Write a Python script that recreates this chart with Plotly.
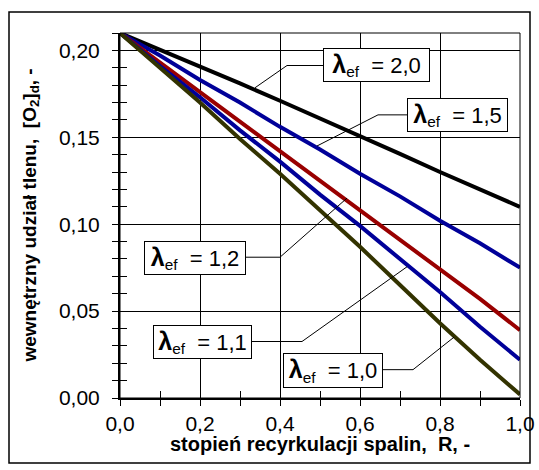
import plotly.graph_objects as go

# ---- data ----
R = [0.0, 0.1, 0.2, 0.3, 0.4, 0.5, 0.6, 0.7, 0.8, 0.9, 1.0]
o2_lam20 = [0.210, 0.2005, 0.191, 0.181, 0.171, 0.161, 0.151, 0.1405, 0.130, 0.120, 0.110]
o2_lam15 = [0.210, 0.197, 0.183, 0.170, 0.156, 0.143, 0.129, 0.116, 0.102, 0.089, 0.075]
o2_lam12 = [0.210, 0.193, 0.176, 0.159, 0.142, 0.125, 0.108, 0.091, 0.074, 0.057, 0.039]
o2_lam11 = [0.210, 0.191, 0.173, 0.154, 0.136, 0.117, 0.099, 0.080, 0.061, 0.041, 0.022]
o2_lam10 = [0.210, 0.190, 0.170, 0.149, 0.129, 0.108, 0.087, 0.065, 0.043, 0.022, 0.002]

series_labels = ["2,0", "1,5", "1,2", "1,1", "1,0"]
x_tickvals = [0.0, 0.2, 0.4, 0.6, 0.8, 1.0]
x_ticktext = ["0,0", "0,2", "0,4", "0,6", "0,8", "1,0"]
y_tickvals = [0.00, 0.05, 0.10, 0.15, 0.20]
y_ticktext = ["0,00", "0,05", "0,10", "0,15", "0,20"]

x_title = "stopień recyrkulacji spalin,  R, -"
y_title = "wewnętrzny udział tlenu,  [O<sub>2</sub>]<sub>d</sub>, -"

FONT = "Liberation Sans"

series = [
    (o2_lam20, "#000000"),
    (o2_lam15, "#000099"),
    (o2_lam12, "#990000"),
    (o2_lam11, "#000099"),
    (o2_lam10, "#333300"),
]

fig = go.Figure()
for (vals, col), lab in zip(series, series_labels):
    fig.add_trace(go.Scatter(x=R, y=vals, mode="lines", name=lab,
                             line=dict(color=col, width=4), hoverinfo="skip"))

# invisible trace on overlay axes (for crossing tick marks)
fig.add_trace(go.Scatter(x=[0, 1], y=[0, 0.21], xaxis="x2", yaxis="y2",
                         mode="markers", marker=dict(opacity=0), showlegend=False,
                         hoverinfo="skip"))

axis_common = dict(showgrid=True, gridcolor="black", gridwidth=1, zeroline=False,
                   tickcolor="black", tickwidth=1, ticklen=6, automargin=False,
                   tickfont=dict(family=FONT, size=21, color="black"),
                   showline=True, linecolor="black", linewidth=2)

fig.update_layout(
    width=539, height=470,
    margin=dict(l=120, r=19, t=33, b=72),
    paper_bgcolor="white", plot_bgcolor="white",
    showlegend=False,
    xaxis=dict(range=[0, 1], tickvals=x_tickvals, ticktext=x_ticktext,
               ticks="outside",
               minor=dict(dtick=0.1, tick0=0, ticks="outside", ticklen=6,
                          tickcolor="black", showgrid=False),
               **axis_common),
    yaxis=dict(range=[0, 0.21], tickvals=y_tickvals, ticktext=y_ticktext,
               ticks="outside", ticklabelstandoff=8,
               minor=dict(dtick=0.01, tick0=0, ticks="outside", ticklen=6,
                          tickcolor="black", showgrid=False),
               **axis_common),
    xaxis2=dict(range=[0, 1], overlaying="x", side="bottom", showgrid=False,
                zeroline=False, showticklabels=False, ticks="inside", ticklen=7,
                tickcolor="black", dtick=0.1, tick0=0, showline=False,
                automargin=False),
    yaxis2=dict(range=[0, 0.21], overlaying="y", side="left", showgrid=False,
                zeroline=False, showticklabels=False, ticks="inside", ticklen=7,
                tickcolor="black", dtick=0.01, tick0=0, showline=False,
                automargin=False),
)

# plot-area border (top/right thin)
fig.add_shape(type="rect", xref="paper", yref="paper", x0=0, y0=0, x1=1, y1=1,
              line=dict(color="black", width=1), layer="above")
# outer frame around the whole chart
fig.add_shape(type="rect", xref="paper", yref="paper",
              x0=-0.2775, y0=-0.178, x1=1.025, y1=1.0575,
              line=dict(color="black", width=1.5), layer="below")

# label boxes: (center R, center y, box w, box h) and leader paths
boxes = [
    (0.641, 0.1917, 107, 34, [(0.5075, 0.1913), (0.4175, 0.1913), (0.3375, 0.1785)]),
    (0.844, 0.1629, 101, 34, [(0.7175, 0.1629), (0.645, 0.1629), (0.4925, 0.1450)]),
    (0.1875, 0.0804, 102, 34, [(0.315, 0.0810), (0.40, 0.0810), (0.5675, 0.1150)]),
    (0.206, 0.0325, 99, 34, [(0.33, 0.0325), (0.455, 0.0325), (0.7175, 0.0755)]),
    (0.5325, 0.0160, 100, 35, [(0.6575, 0.0163), (0.7325, 0.0163), (0.835, 0.0350)]),
]
for (cx, cy, w, h, path), lab in zip(boxes, series_labels):
    p = "M {} {} L {} {} L {} {}".format(path[0][0], path[0][1], path[1][0],
                                         path[1][1], path[2][0], path[2][1])
    fig.add_shape(type="path", xref="x", yref="y", path=p,
                  line=dict(color="black", width=1), layer="above")
    fig.add_annotation(x=cx, y=cy, xref="x", yref="y", showarrow=False,
                       text='<span style="font-size:25px"><b>λ</b></span>'
                            '<sub>ef</sub>  = ' + lab,
                       font=dict(family=FONT, size=22, color="black"),
                       bgcolor="white", bordercolor="black", borderwidth=1,
                       borderpad=0, width=w - 2, height=h - 2)

# axis titles
fig.add_annotation(xref="paper", yref="paper", x=0.5, y=-0.126, yanchor="middle",
                   showarrow=False, text="<b>" + x_title + "</b>",
                   font=dict(family=FONT, size=20, color="black"))
fig.add_annotation(xref="paper", yref="paper", x=-0.225, y=0.5, xanchor="center",
                   showarrow=False, textangle=-90, text="<b>" + y_title + "</b>",
                   font=dict(family=FONT, size=19, color="black"))

# remove the default page margin so the 539x470 figure fills the window exactly
fig.write_html("out.html",
               config={"displayModeBar": False},
               post_script="document.body.style.margin='0';"
                           "document.body.style.overflow='hidden';")
